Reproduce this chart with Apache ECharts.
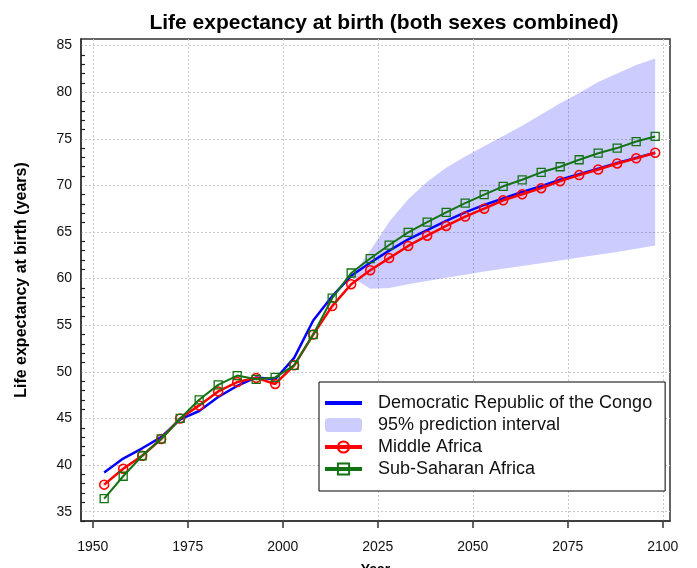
<!DOCTYPE html>
<html>
<head>
<meta charset="utf-8">
<title>Life expectancy at birth</title>
<script src="https://cdn.jsdelivr.net/npm/echarts@6.0.0/dist/echarts.min.js"></script>
<style>
    html, body { margin: 0; padding: 0; background: #fff; }
    #lifeChart { width: 697px; height: 568px; }
</style>
</head>
<body>
<div id="lifeChart"></div>
<script>
// 5-year period midpoints
var years = [1953, 1958, 1963, 1968, 1973, 1978, 1983, 1988, 1993, 1998,
    2003, 2008, 2013, 2018, 2023, 2028, 2033, 2038, 2043, 2048,
    2053, 2058, 2063, 2068, 2073, 2078, 2083, 2088, 2093, 2098];

var congo = [39.2, 40.7, 41.8, 43.0, 44.9, 45.8, 47.3, 48.5, 49.4, 49.2,
    51.5, 55.5, 58.1, 60.3, 61.7, 63.0, 64.2, 65.2, 66.2, 67.1,
    67.9, 68.6, 69.3, 69.9, 70.6, 71.2, 71.8, 72.4, 72.95, 73.5];

var middleAfrica = [37.9, 39.6, 41.0, 42.8, 45.0, 46.4, 47.9, 48.9, 49.35, 48.7,
    50.7, 54.0, 57.05, 59.4, 60.9, 62.2, 63.5, 64.6, 65.65, 66.65,
    67.5, 68.4, 69.05, 69.7, 70.45, 71.1, 71.7, 72.35, 72.9, 73.5];

var subSaharan = [36.4, 38.8, 41.0, 42.8, 45.0, 47.0, 48.6, 49.6, 49.2, 49.4,
    50.7, 54.0, 57.9, 60.6, 62.15, 63.6, 64.95, 66.05, 67.1, 68.1,
    69.0, 69.9, 70.6, 71.4, 72.0, 72.75, 73.45, 74.0, 74.7, 75.25];

// 95% prediction interval (projection years only)
var bandYears = [2018, 2023, 2028, 2033, 2038, 2043, 2048, 2053, 2058,
    2063, 2068, 2073, 2078, 2083, 2088, 2093, 2098];
var bandLower = [60.2, 58.9, 59.0, 59.4, 59.75, 60.1, 60.4, 60.75, 61.05,
    61.35, 61.65, 61.95, 62.25, 62.55, 62.85, 63.2, 63.55];
var bandUpper = [60.2, 63.0, 66.1, 68.5, 70.4, 71.9, 73.1, 74.2, 75.3,
    76.4, 77.6, 78.8, 79.9, 81.1, 82.0, 82.9, 83.6];

var xTicks = [1950, 1975, 2000, 2025, 2050, 2075, 2100];
var yTicks = [35, 40, 45, 50, 55, 60, 65, 70, 75, 80, 85];

var FONT = 'Liberation Sans, Arial, sans-serif';

/**
 * @description 把年份和数值组合成 [x, y] 点
 */
function pairs(xs, ys) {
    var out = [];
    for (var i = 0; i < xs.length; i++) {
        out.push([xs[i], ys[i]]);
    }
    return out;
}

/**
 * @description 小刻度: 每 1 年一个, 跳过 5 的倍数
 */
function minorTicks() {
    var out = [];
    for (var v = 34; v <= 85; v++) {
        if (v % 5 !== 0) out.push(v);
    }
    return out;
}

/**
 * @description 预测区间: 上沿正向 + 下沿反向, 画成一个多边形
 */
function renderBand(params, api) {
    if (params.dataIndex !== 0) return null;
    var points = [];
    var i;
    for (i = 0; i < bandYears.length; i++) {
        points.push(api.coord([bandYears[i], bandUpper[i]]));
    }
    for (i = bandYears.length - 1; i >= 0; i--) {
        points.push(api.coord([bandYears[i], bandLower[i]]));
    }
    return {
        type: 'polygon',
        shape: {points: points},
        style: {fill: 'rgba(0,0,255,0.2)'}
    };
}

function loadLifeChart() {
    var myChart = echarts.init(document.getElementById('lifeChart'), null, {renderer: 'canvas'});
    var gridLine = {show: true, lineStyle: {color: '#c8c8c8', type: [2, 2], width: 1}};

    var option = {
        animation: false,
        backgroundColor: '#fff',
        textStyle: {fontFamily: FONT},
        title: {
            text: 'Life expectancy at birth (both sexes combined)',
            left: 379,
            top: 8,
            textAlign: 'center',
            textStyle: {fontFamily: FONT, fontSize: 21, fontWeight: 'bold', color: '#000'}
        },
        legend: {
            orient: 'vertical',
            left: 319,
            top: 382,
            padding: [12, 13, 13, 4],
            itemGap: 4,
            itemWidth: 37,
            itemHeight: 14,
            backgroundColor: '#fff',
            borderColor: '#000',
            borderWidth: 1,
            lineStyle: {width: 4},
            textStyle: {fontFamily: FONT, fontSize: 18, color: '#111', lineHeight: 18, padding: [0, 0, 0, 11]},
            data: [
                {name: 'Democratic Republic of the Congo', itemStyle: {opacity: 0}},
                {name: '95% prediction interval', icon: 'roundRect', itemStyle: {color: '#ccccff'}},
                {name: 'Middle Africa'},
                {name: 'Sub-Saharan Africa'}
            ]
        },
        grid: {
            left: 81,
            right: 27,
            top: 39,
            bottom: 47,
            show: true,
            borderColor: '#333',
            borderWidth: 1.5,
            outerBoundsMode: 'none'
        },
        xAxis: {
            type: 'value',
            min: 1946.9,
            max: 2101.9,
            name: 'Year',
            nameLocation: 'middle',
            nameGap: 42,
            nameTextStyle: {fontFamily: FONT, fontSize: 14, fontWeight: 'bold', color: '#000'},
            axisLine: {show: true, onZero: false, lineStyle: {color: '#333', width: 1.5}},
            axisTick: {show: true, inside: false, length: 7, customValues: xTicks, lineStyle: {color: '#333', width: 1.5}},
            axisLabel: {
                customValues: xTicks, margin: 19, fontSize: 14, color: '#111', fontFamily: FONT,
                formatter: function (v) { return String(v); }
            },
            splitLine: gridLine
        },
        yAxis: [{
            type: 'value',
            min: 34,
            max: 85.7,
            name: 'Life expectancy at birth (years)',
            nameLocation: 'middle',
            nameGap: 51,
            nameTextStyle: {fontFamily: FONT, fontSize: 16, fontWeight: 'bold', color: '#000'},
            axisLine: {show: true, onZero: false, lineStyle: {color: '#333', width: 1.5}},
            axisTick: {show: false, customValues: yTicks},
            axisLabel: {customValues: yTicks, margin: 9, fontSize: 14, color: '#111', fontFamily: FONT},
            splitLine: gridLine
        }, {
            type: 'value',
            min: 34,
            max: 85.7,
            position: 'left',
            axisLine: {show: false},
            axisTick: {show: true, inside: true, length: 4, customValues: minorTicks(), lineStyle: {color: '#222', width: 1.2}},
            axisLabel: {show: false},
            splitLine: {show: false}
        }],
        series: [{
            name: '95% prediction interval',
            type: 'custom',
            renderItem: renderBand,
            data: pairs(bandYears, bandUpper),
            encode: {x: 0, y: 1},
            itemStyle: {color: '#ccccff'},
            silent: true,
            z: 1
        }, {
            name: 'Democratic Republic of the Congo',
            type: 'line',
            data: pairs(years, congo),
            symbol: 'none',
            itemStyle: {color: '#0000ff'},
            lineStyle: {color: '#0000ff', width: 2.5},
            z: 3
        }, {
            name: 'Middle Africa',
            type: 'line',
            data: pairs(years, middleAfrica),
            symbol: 'circle',
            symbolSize: 9,
            itemStyle: {color: 'rgba(255,0,0,0.08)', borderColor: '#ff0000', borderWidth: 1.5},
            lineStyle: {color: '#ff0000', width: 2.5},
            z: 4
        }, {
            name: 'Sub-Saharan Africa',
            type: 'line',
            data: pairs(years, subSaharan),
            symbol: 'rect',
            symbolSize: 8,
            itemStyle: {color: 'rgba(255,255,255,0)', borderColor: '#137313', borderWidth: 1.3},
            lineStyle: {color: '#137313', width: 2},
            z: 5
        }]
    };
    myChart.setOption(option, true);
}

loadLifeChart();
</script>
</body>
</html>
